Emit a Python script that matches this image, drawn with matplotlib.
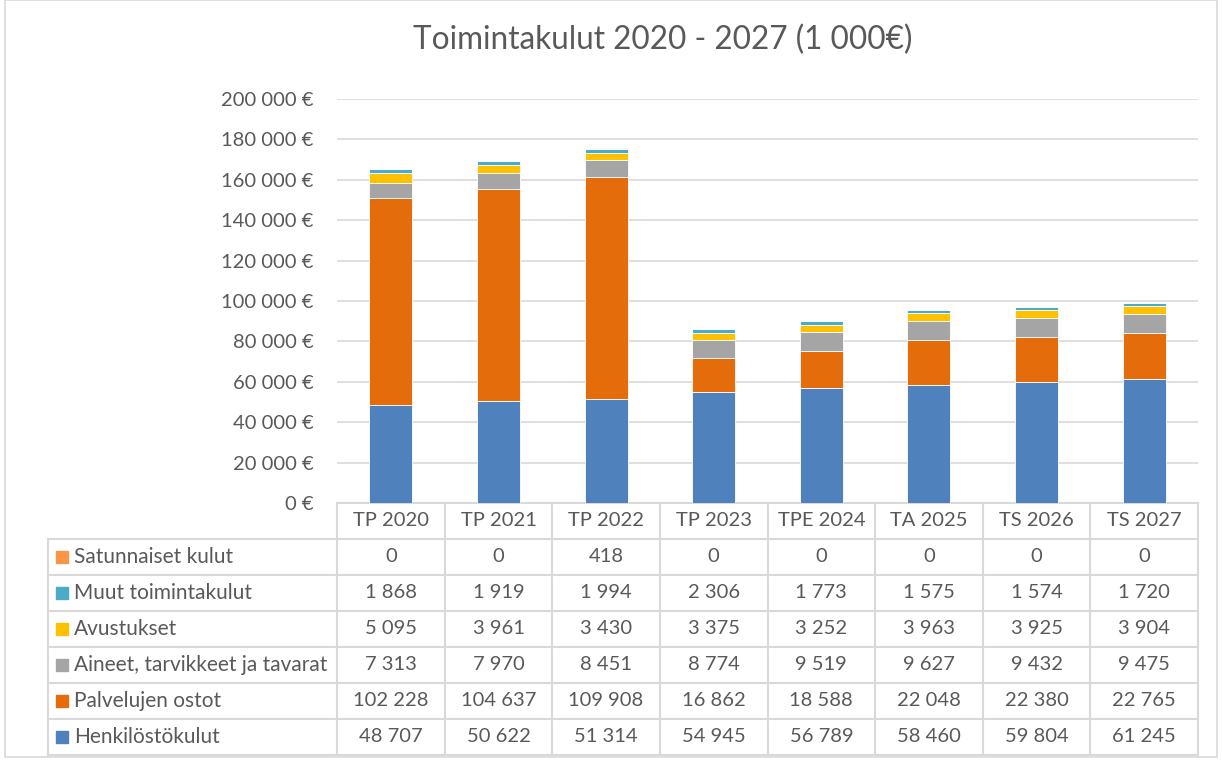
import matplotlib.pyplot as plt
import matplotlib.transforms as mtransforms
from matplotlib.patches import Rectangle

plt.rcParams['font.family'] = ['Lato', 'DejaVu Sans']

years = ['TP 2020', 'TP 2021', 'TP 2022', 'TP 2023', 'TPE 2024', 'TA 2025', 'TS 2026', 'TS 2027']
henkilosto = [48707, 50622, 51314, 54945, 56789, 58460, 59804, 61245]
palvelut = [102228, 104637, 109908, 16862, 18588, 22048, 22380, 22765]
aineet = [7313, 7970, 8451, 8774, 9519, 9627, 9432, 9475]
avustukset = [5095, 3961, 3430, 3375, 3252, 3963, 3925, 3904]
muut = [1868, 1919, 1994, 2306, 1773, 1575, 1574, 1720]
satunnaiset = [0, 0, 418, 0, 0, 0, 0, 0]

# stacking order, bottom first
series = [
    ('Henkilöstökulut', henkilosto, '#4F81BD'),
    ('Palvelujen ostot', palvelut, '#E46C0A'),
    ('Aineet, tarvikkeet ja tavarat', aineet, '#A5A5A5'),
    ('Avustukset', avustukset, '#FFC000'),
    ('Muut toimintakulut', muut, '#4BACC6'),
    ('Satunnaiset kulut', satunnaiset, '#F79646'),
]

W, H = 1222, 761
fig = plt.figure(figsize=(W / 100, H / 100), dpi=100)
txt = '#595959'
grid_c = '#D9D9D9'
fs = 14.5

def fx(px):
    return px / W

def fy(py):
    return 1 - py / H

ax = fig.add_axes([fx(337), fy(503), fx(1198) - fx(337), fy(99) - fy(503)])

x = list(range(len(years)))
bottom = [0] * len(years)
for name, vals, col in series:
    ax.bar(x, vals, 0.4, bottom=bottom, color=col, edgecolor='white', linewidth=0.6, zorder=3)
    bottom = [b + v for b, v in zip(bottom, vals)]

ax.set_xlim(-0.5, len(years) - 0.5)
ax.set_ylim(0, 200000)
ax.set_yticks(range(0, 200001, 20000))
ax.set_yticklabels([f'{v:,} €'.replace(',', ' ') for v in range(0, 200001, 20000)])
ax.tick_params(axis='y', length=0, pad=17, labelsize=fs, labelcolor=txt)
ax.set_xticks([])
ax.grid(axis='y', color=grid_c, linewidth=1.2, zorder=0)
for s in ax.spines.values():
    s.set_visible(False)

fig.text(fx(663), fy(40), 'Toimintakulut 2020 - 2027 (1 000€)', ha='center', va='center',
         fontsize=22.7, color=txt)

# data table under the chart
tr = mtransforms.blended_transform_factory(ax.transData, fig.transFigure)
top = fy(503)
head_h = (503 - 539) / H
row_h = 36 / H
y_head_bot = top + head_h
n_rows = len(series)
y_bot = y_head_bot - n_rows * row_h
lc = '#D9D9D9'
lw = 1.5

# header
for i, yr in enumerate(years):
    ax.text(i, (top + y_head_bot) / 2, yr, transform=tr, ha='center', va='center',
            fontsize=fs, color=txt, clip_on=False)
for i in range(len(years) + 1):
    ax.plot([i - 0.5, i - 0.5], [top, y_bot], transform=tr, color=lc, lw=lw, clip_on=False)
ax.plot([-0.5, len(years) - 0.5], [top, top], transform=tr, color=lc, lw=lw, clip_on=False)

# rows, top to bottom in reverse stacking order
for r, (name, vals, col) in enumerate(series[::-1]):
    yt = y_head_bot - r * row_h
    yc = yt - row_h / 2
    fig.add_artist(Rectangle((fx(56), yc - 6 / H), 12 / W, 12 / H, color=col,
                             transform=fig.transFigure))
    fig.text(fx(74), yc, name, ha='left', va='center', fontsize=15, color=txt)
    for i, v in enumerate(vals):
        ax.text(i, yc, f'{v:,}'.replace(',', ' '), transform=tr, ha='center', va='center',
                fontsize=fs, color=txt, clip_on=False)
for r in range(n_rows + 1):
    yy = y_head_bot - r * row_h
    fig.add_artist(plt.Line2D([fx(48), fx(1198)], [yy, yy], color=lc, lw=lw,
                              transform=fig.transFigure))
fig.add_artist(plt.Line2D([fx(48), fx(48)], [y_head_bot, y_bot], color=lc, lw=lw,
                          transform=fig.transFigure))

# chart area border
fig.add_artist(Rectangle((fx(5), fy(757)), fx(1217) - fx(5), fy(0) - fy(757), fill=False,
                         edgecolor=lc, lw=1.2, transform=fig.transFigure))

fig.savefig('out.png', dpi=100)
